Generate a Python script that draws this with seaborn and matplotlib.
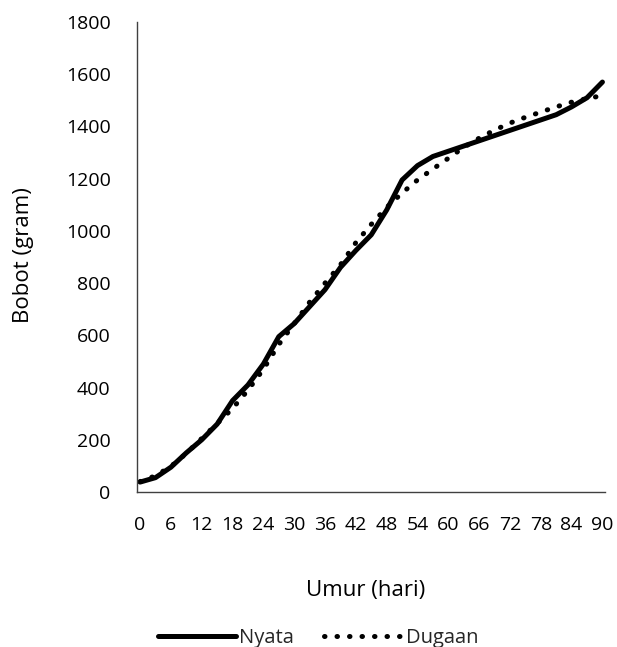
import numpy as np
import pandas as pd
import matplotlib
matplotlib.use("Agg")
import matplotlib.pyplot as plt
import seaborn as sns
from matplotlib.lines import Line2D

# Age in days (every 3 days)
umur = list(range(0, 91, 3))

# Observed body weight (gram)
nyata = [38, 55, 95, 150, 200, 260, 350, 410, 490, 595, 645,
         710, 775, 860, 925, 985, 1080, 1195, 1250, 1285, 1305,
         1325, 1345, 1365, 1385, 1405, 1425, 1445, 1475, 1510, 1570]

# Estimated body weight from the growth model (gram)
dugaan = [40, 62, 98, 148, 205, 262, 320, 390, 470, 565, 645,
          727, 800, 870, 955, 1025, 1090, 1145, 1195, 1237, 1278,
          1320, 1355, 1386, 1413, 1435, 1455, 1475, 1493, 1507, 1518]

x_ticks = list(range(0, 91, 6))
y_ticks = list(range(0, 1801, 200))

df = pd.DataFrame({
    "Umur": umur * 2,
    "Bobot": nyata + dugaan,
    "Seri": ["Nyata"] * len(umur) + ["Dugaan"] * len(umur),
})

sns.set_theme(style="white")
plt.rcParams["font.family"] = ["Open Sans", "DejaVu Sans"]

fig = plt.figure(figsize=(6.17, 6.47), dpi=100)
ax = fig.add_axes([137 / 617, 1 - 492 / 647, (605 - 137) / 617, (492 - 22) / 647])

dot_style = (0, (0.1, 2.4))
sns.lineplot(data=df[df["Seri"] == "Nyata"], x="Umur", y="Bobot", ax=ax,
             color="black", linewidth=3.6, solid_capstyle="round",
             solid_joinstyle="round")
sns.lineplot(data=df[df["Seri"] == "Dugaan"], x="Umur", y="Bobot", ax=ax,
             color="black", linewidth=3.6, linestyle=dot_style,
             dash_capstyle="round")

ax.set_xlim(-0.6, 90.5)
ax.set_ylim(0, 1800)
ax.set_xticks(x_ticks)
ax.set_yticks(y_ticks)
ax.tick_params(axis="both", length=0, labelsize=14, colors="black")
ax.tick_params(axis="x", pad=17)
ax.tick_params(axis="y", pad=19)

for side in ["top", "right"]:
    ax.spines[side].set_visible(False)
for side in ["left", "bottom"]:
    ax.spines[side].set_color("#404040")
    ax.spines[side].set_linewidth(1.0)

ax.set_xlabel("Umur (hari)", fontsize=16, color="black")
ax.set_ylabel("Bobot (gram)", fontsize=16, color="black")
ax.xaxis.set_label_coords((366 - 137) / 468, (492 - 580) / 470)
ax.yaxis.set_label_coords((34 - 137) / 468, (492 - 255) / 470)

handles = [
    Line2D([], [], color="black", linewidth=3.6, solid_capstyle="round"),
    Line2D([], [], color="black", linewidth=3.6, linestyle=dot_style,
           dash_capstyle="round"),
]
fig.legend(handles, ["Nyata", "Dugaan"], loc="center",
           bbox_to_anchor=(318 / 617, 1 - 638 / 647), ncol=2, frameon=False,
           fontsize=14.5, handlelength=3.9, handletextpad=0.15, columnspacing=1.5)
if ax.get_legend() is not None:
    ax.get_legend().remove()

fig.savefig("out.png", dpi=100)
